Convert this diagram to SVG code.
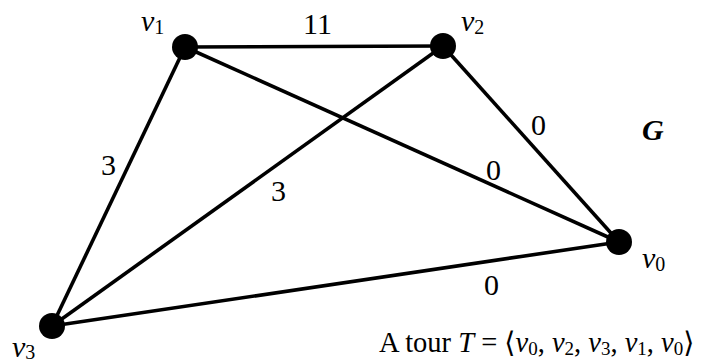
<svg xmlns="http://www.w3.org/2000/svg" width="727" height="363" viewBox="0 0 727 363">
<style>
text{font-family:'Liberation Serif','Times New Roman','DejaVu Serif',serif;font-size:30px;fill:#000}
.i{font-style:italic}
.s{font-size:20px;font-style:normal}
.t{font-size:28.5px}
.t .s{font-size:19px}
line{stroke:#000;stroke-width:3.6}
circle{fill:#000}
</style>
<rect width="727" height="363" fill="#fff"/>
<g id="edges">
<line x1="185" y1="47" x2="443" y2="46"/>
<line x1="185" y1="47" x2="52" y2="326"/>
<line x1="185" y1="47" x2="619" y2="242"/>
<line x1="443" y1="46" x2="52" y2="326"/>
<line x1="443" y1="46" x2="619" y2="242"/>
<line x1="52" y1="326" x2="619" y2="242"/>
<text x="303" y="34">11</text>
<text x="101" y="175">3</text>
<text x="271" y="201">3</text>
<text x="531" y="135">0</text>
<text x="486" y="180">0</text>
<text x="484" y="295">0</text>
</g>
<g id="v1"><circle cx="185" cy="47" r="13"/><text class="i" x="141" y="31">v<tspan class="s" dy="3">1</tspan></text></g>
<g id="v2"><circle cx="443" cy="46" r="13"/><text class="i" x="461" y="31">v<tspan class="s" dy="3">2</tspan></text></g>
<g id="v0"><circle cx="619" cy="242" r="13"/><text class="i" x="642" y="268">v<tspan class="s" dy="3">0</tspan></text></g>
<g id="v3"><circle cx="52" cy="326" r="13"/><text class="i" x="12" y="357">v<tspan class="s" dy="2">3</tspan></text></g>
<text x="642" y="140" font-size="27" font-weight="bold" font-style="italic">G</text>
<text class="t" x="379" y="352">A tour <tspan class="i">T</tspan> = ⟨<tspan class="i">v</tspan><tspan class="s" dy="3">0</tspan><tspan dy="-3">, </tspan><tspan class="i">v</tspan><tspan class="s" dy="3">2</tspan><tspan dy="-3">, </tspan><tspan class="i">v</tspan><tspan class="s" dy="3">3</tspan><tspan dy="-3">, </tspan><tspan class="i">v</tspan><tspan class="s" dy="3">1</tspan><tspan dy="-3">, </tspan><tspan class="i">v</tspan><tspan class="s" dy="3">0</tspan><tspan dy="-3">⟩</tspan></text>
</svg>
